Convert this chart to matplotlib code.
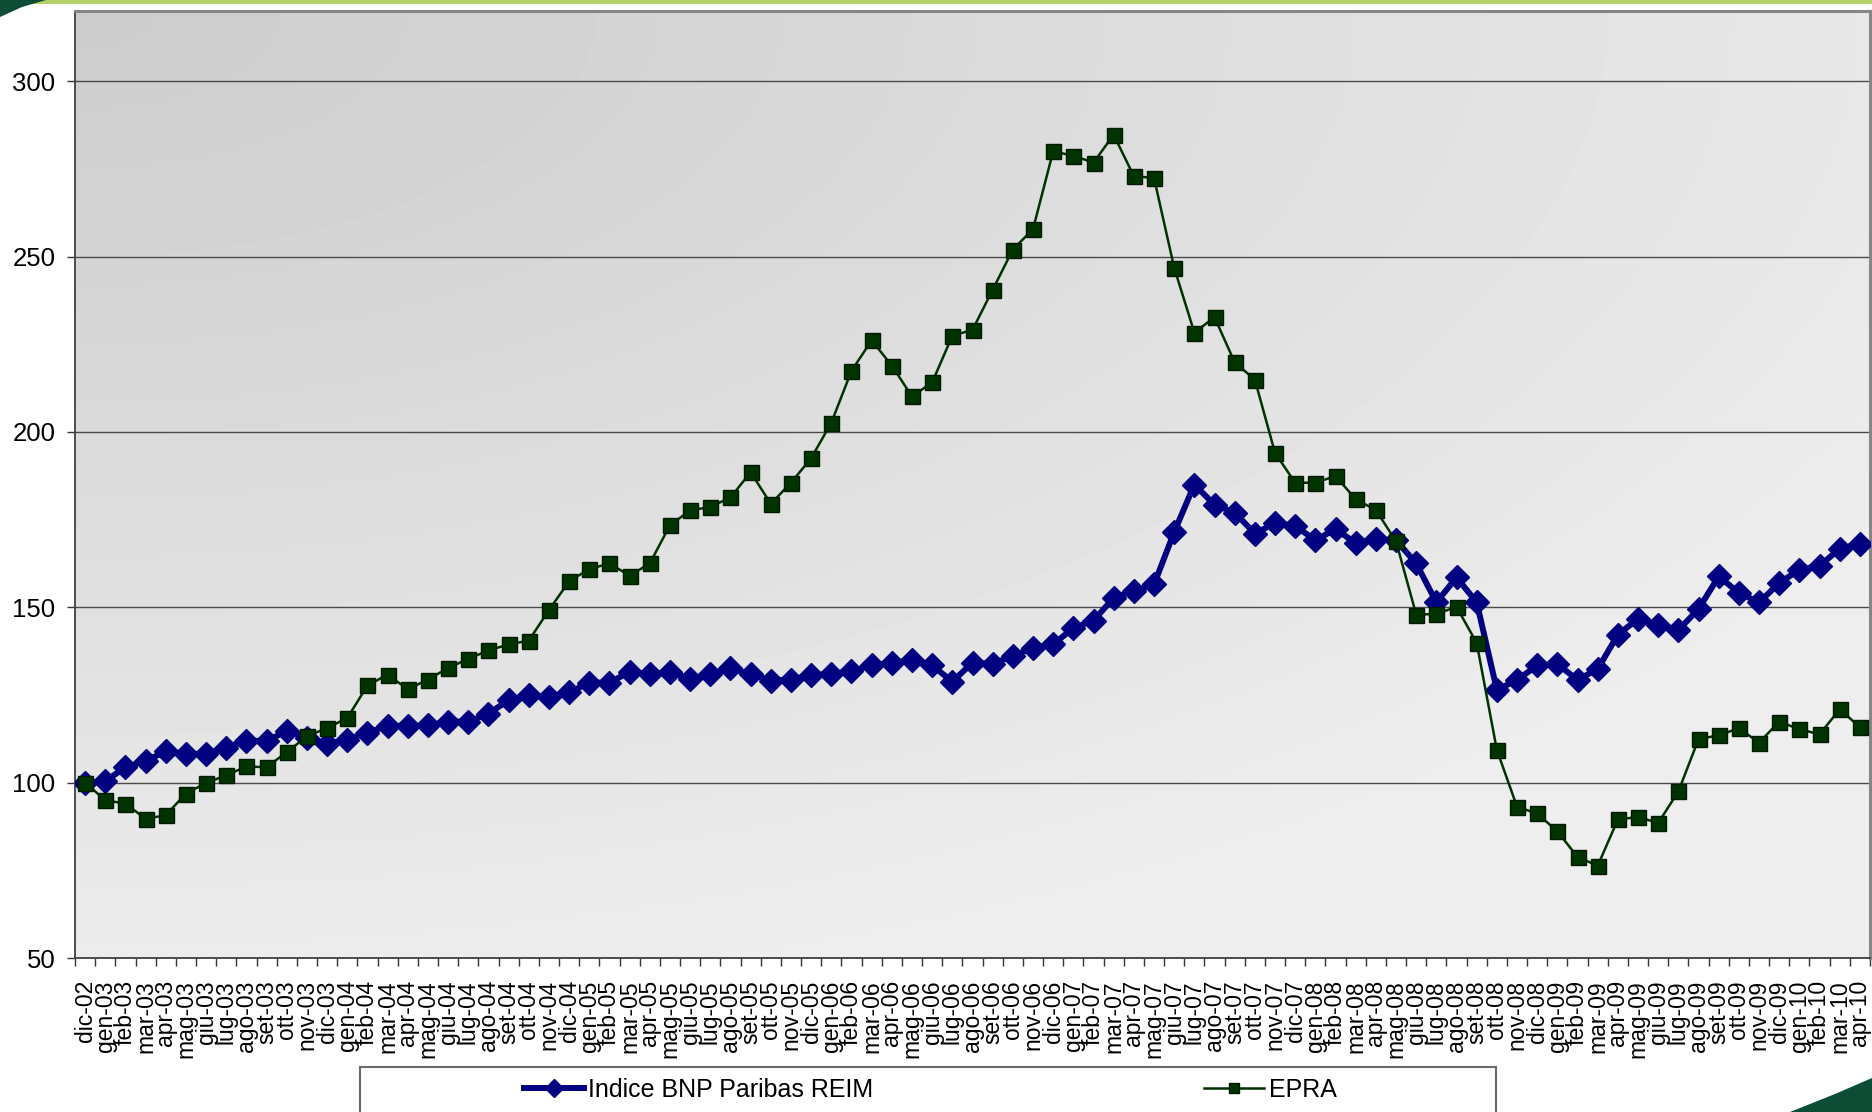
import matplotlib
matplotlib.use('Agg')
import matplotlib.pyplot as plt
import numpy as np
from matplotlib.patches import Rectangle, Polygon

plt.rcParams['font.family'] = ['Liberation Sans', 'DejaVu Sans']

# ---- data ----
mesi = ['gen', 'feb', 'mar', 'apr', 'mag', 'giu', 'lug', 'ago', 'set', 'ott', 'nov', 'dic']
labels = ['dic-02'] + [f'{m}-{y:02d}' for y in range(3, 11) for m in mesi][:88]

bnp = [100.0, 100.4, 104.4, 106.2, 108.9, 108.2, 108.2, 110.0, 111.9, 111.9,
       114.7, 112.7, 110.9, 112.2, 114.2, 116.2, 116.2, 116.3, 117.4, 117.4,
       119.6, 123.6, 124.9, 124.5, 125.7, 128.5, 128.5, 131.6, 130.9, 131.6,
       129.5, 130.9, 132.6, 130.9, 129.1, 129.3, 130.7, 130.9, 131.8, 133.4,
       134.2, 134.9, 133.4, 128.8, 134.2, 133.8, 136.2, 138.3, 139.4, 144.1,
       146.2, 152.7, 154.7, 156.5, 171.4, 185.0, 179.2, 177.0, 171.0, 174.0,
       173.2, 169.1, 172.3, 168.3, 169.4, 169.1, 162.5, 151.4, 158.5, 151.4,
       126.4, 129.3, 133.4, 133.8, 129.3, 132.4, 142.2, 146.7, 144.9, 143.5,
       149.5, 158.8, 154.1, 151.4, 156.9, 160.7, 161.8, 166.7, 168.0]

epra = [100.0, 95.0, 94.0, 89.7, 90.7, 96.9, 99.9, 102.1, 104.6, 104.4,
        108.7, 113.2, 115.6, 118.4, 127.7, 130.8, 126.6, 129.4, 132.7, 135.3,
        137.7, 139.4, 140.5, 149.2, 157.4, 160.9, 162.5, 159.0, 162.5, 173.4,
        177.6, 178.6, 181.3, 188.5, 179.5, 185.5, 192.5, 202.6, 217.4, 226.1,
        218.9, 210.1, 214.1, 227.4, 229.1, 240.5, 252.0, 257.8, 280.0, 278.7,
        276.8, 284.7, 272.9, 272.4, 246.8, 228.3, 232.7, 219.8, 214.9, 194.0,
        185.5, 185.5, 187.4, 180.8, 177.7, 168.8, 147.9, 148.1, 150.1, 139.8,
        109.3, 93.1, 91.2, 86.1, 78.8, 76.3, 89.5, 90.2, 88.5, 97.5,
        112.4, 113.5, 115.5, 111.4, 117.4, 115.2, 113.8, 120.9, 115.8]

series_names = ['Indice BNP Paribas REIM', 'EPRA']
y_ticks = [50, 100, 150, 200, 250, 300]

W, H = 1872, 1112
fig = plt.figure(figsize=(W / 100, H / 100), dpi=100)
fig.patch.set_facecolor('white')

def fx(px):
    return px / W

def fy(py):
    return 1 - py / H

ax = fig.add_axes([fx(75), fy(958), fx(1870) - fx(75), fy(11) - fy(958)])

# gradient background
u = np.linspace(0, 1, 300)
v = np.linspace(0, 1, 300)
U, V = np.meshgrid(u, v)
C = 0.80 + 0.13 * np.clip(np.sqrt((U * 0.85) ** 2 + (V * 0.95) ** 2), 0, 1)
ax.imshow(C, cmap='gray', vmin=0, vmax=1, extent=[0, 1, 0, 1],
          transform=ax.transAxes, aspect='auto', zorder=-1, interpolation='bilinear')

x = np.arange(len(labels))
ln1, = ax.plot(x, bnp, color='#000080', lw=4.3, marker='D', ms=12.5,
               mfc='#000080', mec='#000080', zorder=3, label=series_names[0])
ln2, = ax.plot(x, epra, color='#003300', lw=1.8, marker='s', ms=10.8,
               mfc='#003300', mec='#001a00', mew=1.0, zorder=4, label=series_names[1])

ax.set_xlim(-0.5, len(labels) - 0.5)
ax.set_ylim(50, 320)

ax.set_yticks(y_ticks)
ax.set_yticklabels([str(t) for t in y_ticks], fontsize=18.5)
ax.yaxis.grid(True, color='#4a4a4a', lw=1.0)
ax.set_axisbelow(True)

ax.set_xticks(x)
ax.set_xticklabels(labels, rotation=90, fontsize=16.5)
ax.set_xticks(np.arange(-0.5, len(labels), 1), minor=True)
ax.tick_params(axis='x', which='major', length=0, pad=16)
ax.tick_params(axis='x', which='minor', length=6, width=1.0, color='#333333')
ax.tick_params(axis='y', which='major', length=6, width=1.0, color='#333333', pad=8)

for s in ['top', 'right']:
    ax.spines[s].set_color('#868686')
    ax.spines[s].set_linewidth(2.2)
for s in ['left', 'bottom']:
    ax.spines[s].set_color('#404040')
    ax.spines[s].set_linewidth(1.3)

# legend box (partially cut off at bottom)
fig.add_artist(Rectangle((fx(360), -0.05), fx(1496) - fx(360), fy(1067) + 0.05,
                         transform=fig.transFigure, fc='white', ec='#6a6a6a', lw=1.5, zorder=1))
leg = fig.legend(handles=[ln1, ln2], labels=series_names, loc='center',
                 bbox_to_anchor=(fx(930), fy(1090)), ncol=2, frameon=False,
                 fontsize=18, handlelength=2.4, handletextpad=0.2,
                 columnspacing=13.2, markerscale=0.7)
leg.set_zorder(2)

# slide decorations
fig.add_artist(Rectangle((0, fy(4)), 1, 4 / H, transform=fig.transFigure,
                         fc='#b3d36a', ec='none', zorder=0))
fig.add_artist(Polygon([(fx(0), fy(0)), (fx(46), fy(0)), (fx(22), fy(7)), (fx(0), fy(17))],
                       closed=True, transform=fig.transFigure, fc='#0d4d36', ec='none', zorder=1))
fig.add_artist(Polygon([(fx(1790), fy(1112)), (fx(1835), fy(1094)), (fx(1872), fy(1078)),
                        (fx(1872), fy(1112))],
                       closed=True, transform=fig.transFigure, fc='#0d4d36', ec='none', zorder=1))

fig.savefig('out.png', dpi=100)
